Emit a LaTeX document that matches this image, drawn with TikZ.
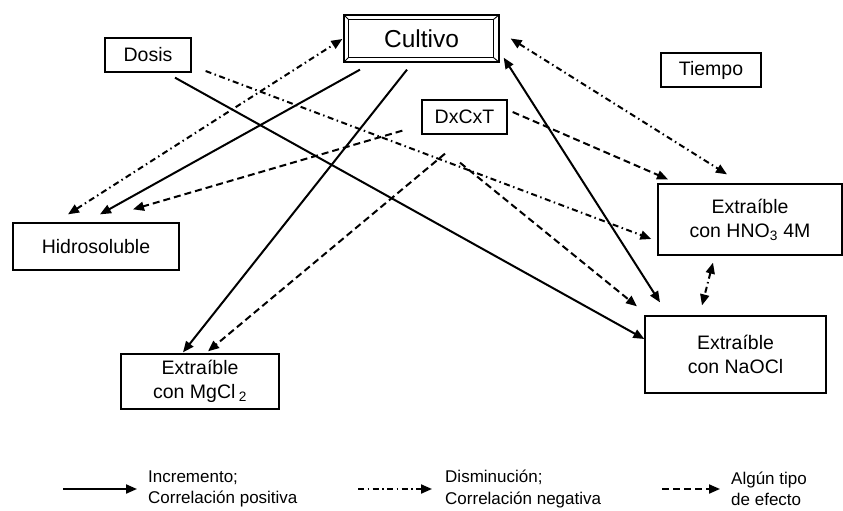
\documentclass[tikz,border=0pt]{standalone}
\usepackage{fontspec}
\setmainfont{Liberation Sans}
\usetikzlibrary{arrows.meta}
\begin{document}
\begin{tikzpicture}[x=1pt,y=-1pt,
  box/.style={draw,line width=1.3pt,inner sep=0pt,font=\fontsize{19.5}{24}\selectfont,align=center},
  leg/.style={inner sep=0pt,anchor=west,align=left,font=\fontsize{17}{21.5}\selectfont},
  con/.style={line width=2pt},
  onetip/.style={arrows={-{Triangle[length=11pt,width=9pt]}}},
  twotips/.style={arrows={{Triangle[length=11pt,width=9pt]}-{Triangle[length=11pt,width=9pt]}}},
  incr/.style={con},
  decr/.style={con,dash pattern=on 6pt off 3.5pt on 1.5pt off 3.5pt},
  effl/.style={con,dash pattern=on 7pt off 4pt}
]
\useasboundingbox (0,0) rectangle (843,511);

% nodes
\node[box,minimum width=155pt,minimum height=47pt,font=\fontsize{24.5}{27}\selectfont] (cult) at (421.5,38.5) {Cultivo};
\draw[line width=1.3pt] ([shift={(5,5)}]cult.north west) rectangle ([shift={(-6,-5)}]cult.south east);
\draw[line width=0.9pt] (cult.north west) -- ++(5,5);
\draw[line width=0.9pt] (cult.north east) -- ++(-6,5);
\draw[line width=0.9pt] (cult.south west) -- ++(5,-5);
\draw[line width=0.9pt] (cult.south east) -- ++(-6,-5);

\node[box,minimum width=86pt,minimum height=34pt] (dosis) at (148,55) {Dosis};
\node[box,minimum width=100pt,minimum height=34pt] (tiempo) at (711,70) {Tiempo};
\node[box,minimum width=85pt,minimum height=34pt] (dxcxt) at (464.5,117) {DxCxT};
\node[box,minimum width=166pt,minimum height=47pt] (hid) at (96,246.5) {Hidrosoluble};
\node[box,minimum width=184pt,minimum height=71pt] (hno) at (750,219.5) {Extraíble\\con HNO\textsubscript{3} 4M};
\node[box,minimum width=181pt,minimum height=77pt] (naocl) at (735.5,354.5) {Extraíble\\con NaOCl};
\node[box,minimum width=158pt,minimum height=55pt] (mgcl) at (200,381.5) {Extraíble\\con MgCl\,\textsubscript{2}};

% connectors
\draw[decr,twotips] ([shift={(-28,-8)}]hid.north) -- ([shift={(-1,0.5)}]cult.west);
\draw[incr,onetip] ([shift={(-61.5,7)}]cult.south) -- ([shift={(4,-8)}]hid.north);
\draw[effl,onetip] ([shift={(-19,-4)}]dxcxt.south west) -- ([shift={(37,-13)}]hid.north);
\draw[incr,onetip] ([shift={(27,5)}]dosis.south) -- ([shift={(0,-15.5)}]naocl.west);
\draw[decr,onetip] ([shift={(14,16)}]dosis.east) -- ([shift={(-6,19.5)}]hno.west);
\draw[incr,onetip] ([shift={(-14.5,7)}]cult.south) -- ([shift={(-17,-1)}]mgcl.north);
\draw[effl,onetip] ([shift={(-19.5,19)}]dxcxt.south) -- ([shift={(8,-2)}]mgcl.north);
\draw[effl,onetip] ([shift={(-4.5,28)}]dxcxt.south) -- ([shift={(-98.5,-9)}]naocl.north);
\draw[effl,onetip] ([shift={(5,-5)}]dxcxt.east) -- ([shift={(-82,-4)}]hno.north);
\draw[decr,twotips] ([shift={(11,0)}]cult.east) -- ([shift={(-23,-9)}]hno.north);
\draw[incr,twotips] ([shift={(4,-5)}]cult.south east) -- ([shift={(-75.5,-13)}]naocl.north);
\draw[decr,twotips] ([shift={(-37,7)}]hno.south) -- ([shift={(-33.5,-10)}]naocl.north);

% legend
\node[leg] (l1) at (148,489) {Incremento;\\Correlación positiva};
\node[leg] (l2) at (445,489) {Disminución;\\Correlación negativa};
\node[leg] (l3) at (731,489) {Algún tipo\\de efecto};
\coordinate (a1) at (63,489);
\coordinate (a2) at (358,489);
\coordinate (a3) at (662,489);
\draw[incr,onetip] (a1) -- ([xshift=-11pt]l1.west);
\draw[decr,onetip] (a2) -- ([xshift=-13pt]l2.west);
\draw[effl,onetip] (a3) -- ([xshift=-11pt]l3.west);
\end{tikzpicture}
\end{document}
